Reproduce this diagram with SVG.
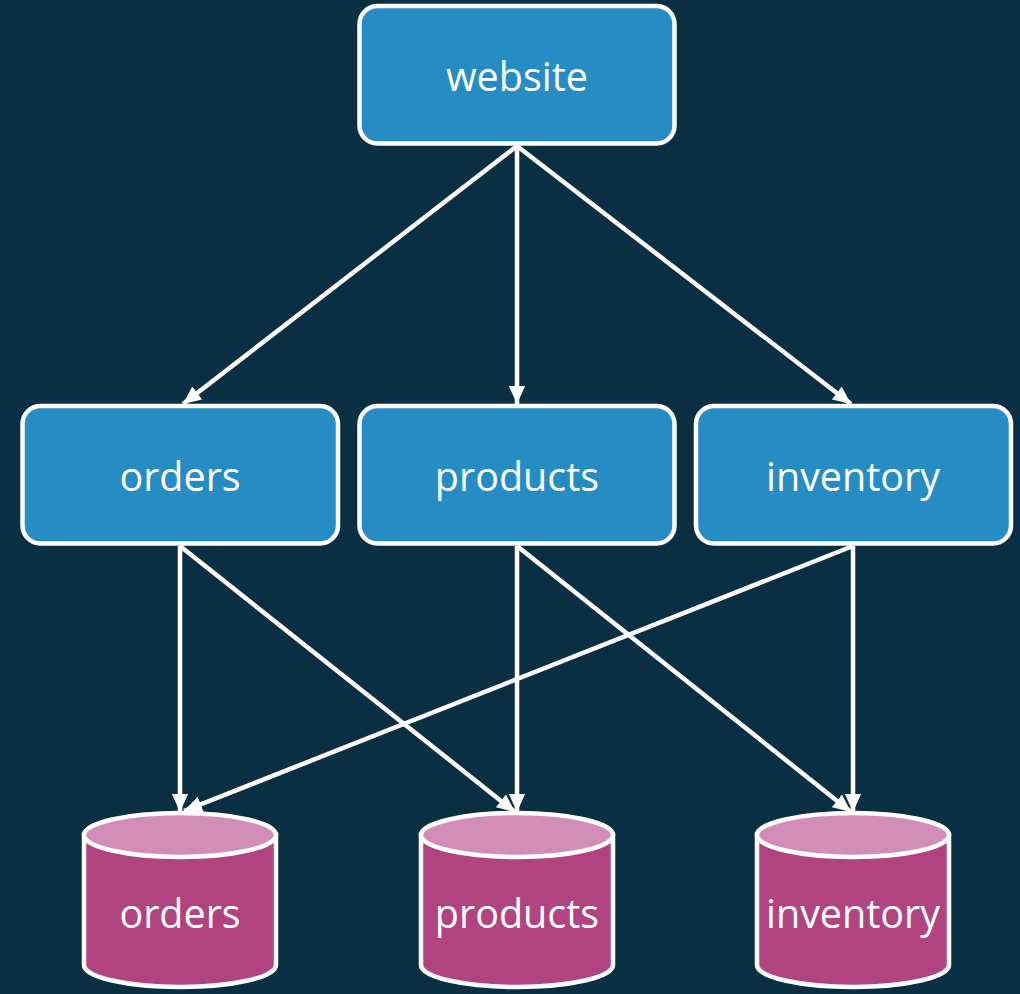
<svg xmlns="http://www.w3.org/2000/svg" width="1020" height="994" viewBox="0 0 1020 994">
<defs>
<style>
.box{fill:#258dc3;stroke:#ffffff;stroke-width:4.5}
.db{fill:#b04380;stroke:#ffffff;stroke-width:4.5}
.dbtop{fill:#d18db7;stroke:#ffffff;stroke-width:4.5}
.lbl{font-family:"Open Sans","Noto Sans","Liberation Sans",sans-serif;font-size:39.5px;fill:#ffffff;text-anchor:middle}
.edge{stroke:#ffffff;stroke-width:4.5;fill:none;marker-end:url(#arr)}
</style>
<marker id="arr" viewBox="0 0 10 10" refX="10" refY="5" markerWidth="4" markerHeight="4" orient="auto" markerUnits="strokeWidth">
<path d="M0,0.5 L10,5 L0,9.5 z" fill="#ffffff"/>
</marker>
</defs>
<rect width="1020" height="994" fill="#0b2f42"/>
<g id="connectors">
<line class="edge" x1="517" y1="146" x2="183" y2="404"/>
<line class="edge" x1="517" y1="146" x2="517" y2="404"/>
<line class="edge" x1="517" y1="146" x2="851" y2="404"/>
<line class="edge" x1="180" y1="546" x2="180" y2="812"/>
<line class="edge" x1="180" y1="546" x2="515" y2="812"/>
<line class="edge" x1="517" y1="546" x2="517" y2="812"/>
<line class="edge" x1="517" y1="546" x2="851" y2="812"/>
<line class="edge" x1="853" y1="546" x2="853" y2="812"/>
<line class="edge" x1="853" y1="546" x2="184" y2="811"/>
</g>
<g id="website">
<rect class="box" x="359.5" y="6" width="315" height="137.5" rx="18"/>
<text class="lbl" x="517" y="90.5">website</text>
</g>
<g id="orders-svc">
<rect class="box" x="22.5" y="406" width="315.5" height="137.5" rx="18"/>
<text class="lbl" x="180" y="490.5">orders</text>
</g>
<g id="products-svc">
<rect class="box" x="359.5" y="406" width="315" height="137.5" rx="18"/>
<text class="lbl" x="517" y="490.5">products</text>
</g>
<g id="inventory-svc">
<rect class="box" x="696" y="406" width="315" height="137.5" rx="18"/>
<text class="lbl" x="853" y="490.5">inventory</text>
</g>
<g id="orders-db">
<path class="db" d="M84,835 L84,965 A96,22 0 0 0 276,965 L276,835 Z"/>
<ellipse class="dbtop" cx="180" cy="835" rx="96" ry="22"/>
<text class="lbl" x="180" y="927.5">orders</text>
</g>
<g id="products-db">
<path class="db" d="M421,835 L421,965 A96,22 0 0 0 613,965 L613,835 Z"/>
<ellipse class="dbtop" cx="517" cy="835" rx="96" ry="22"/>
<text class="lbl" x="517" y="927.5">products</text>
</g>
<g id="inventory-db">
<path class="db" d="M757,835 L757,965 A96,22 0 0 0 949,965 L949,835 Z"/>
<ellipse class="dbtop" cx="853" cy="835" rx="96" ry="22"/>
<text class="lbl" x="853" y="927.5">inventory</text>
</g>
</svg>
